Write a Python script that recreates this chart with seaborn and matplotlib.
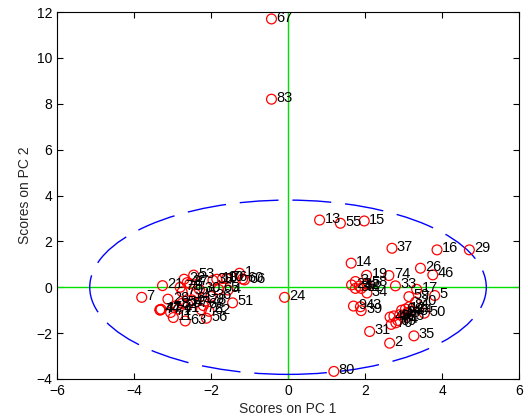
import matplotlib
matplotlib.use("Agg")
import matplotlib.pyplot as plt
import seaborn as sns
import pandas as pd
from matplotlib.patches import Ellipse

labels = [67, 83, 24,
          13, 55, 15, 37, 16, 29, 14, 26, 46, 19, 74, 33, 17, 59, 5, 20, 50,
          34, 58, 9, 43, 39, 31, 2, 35, 80,
          3, 23, 32, 42, 52,
          6, 12, 40, 45, 48, 49, 64, 69, 70, 75, 81, 84,
          1, 4, 7, 8, 10, 11, 18, 21, 22, 25, 27, 28, 30, 36, 38, 41, 44, 47,
          51, 53, 54, 56, 57, 60, 61, 62, 63, 65, 66, 68, 71, 72, 73, 76, 77,
          78, 79, 82]
pc1 = [-0.43, -0.43, -0.09,
       0.82, 1.36, 1.98, 2.70, 3.87, 4.71, 1.64, 3.44, 3.76, 2.04, 2.62, 2.79, 3.34, 3.14, 3.81, 3.31, 3.54,
       2.05, 2.05, 1.70, 1.88, 1.90, 2.12, 2.64, 3.27, 1.19,
       1.75, 1.65, 1.75, 1.85, 1.90,
       2.95, 3.05, 3.10, 2.90, 2.75, 2.65, 3.20, 2.80, 2.68, 3.00, 3.15, 2.85,
       -1.26, -1.56, -3.80, -2.55, -1.70, -2.98, -1.85, -3.26, -2.70, -2.40, -2.62, -3.12, -2.30, -2.00, -1.95, -2.85, -3.33, -3.30,
       -1.44, -2.45, -2.75, -2.12, -2.60, -1.18, -2.50, -2.05, -2.67, -1.80, -1.13, -2.20, -3.05, -2.25, -2.80, -1.60, -3.32,
       -2.15, -2.75, -2.90]
pc2 = [11.70, 8.20, -0.44,
       2.93, 2.79, 2.89, 1.70, 1.63, 1.63, 1.05, 0.83, 0.54, 0.52, 0.51, 0.06, -0.09, -0.41, -0.36, -0.65, -1.13,
       -0.25, 0.15, -0.82, -0.85, -1.02, -1.93, -2.44, -2.12, -3.67,
       0.25, 0.10, -0.05, 0.05, -0.05,
       -1.00, -0.95, -1.10, -1.20, -1.25, -1.30, -1.05, -1.55, -1.62, -1.30, -0.85, -1.45,
       0.61, -0.12, -0.44, 0.15, 0.38, -1.32, 0.35, 0.07, 0.35, -0.30, 0.20, -0.52, -0.10, -0.40, 0.30, -0.95, -0.98, -0.96,
       -0.68, 0.53, -0.70, -1.35, -0.75, 0.36, -0.55, -1.05, -1.47, -0.10, 0.32, -0.80, -1.10, -0.98, 0.00, 0.38, -1.00,
       -0.60, -0.20, -0.80]

ellipse_width = 10.3
ellipse_height = 7.6

df = pd.DataFrame({"PC1": pc1, "PC2": pc2, "label": labels})

sns.set_style("white")
plt.rcParams['font.family'] = ['Liberation Sans', 'DejaVu Sans']

fig = plt.figure(figsize=(5.28, 4.16), dpi=100)
ax = fig.add_axes([0.108, 0.089, 0.875, 0.882])

ax.axhline(0, color="#00e000", lw=1.0, zorder=1)
ax.axvline(0, color="#00e000", lw=1.0, zorder=1)

ell = Ellipse((0, 0), ellipse_width, ellipse_height, fill=False, edgecolor="blue",
              lw=1.0, linestyle=(0, (28, 10)), zorder=1)
ax.add_patch(ell)

sns.scatterplot(data=df, x="PC1", y="PC2", ax=ax, marker="o", s=50,
                facecolor="none", edgecolor="red", linewidth=0.9, zorder=3)

for lx, ly, lb in zip(pc1, pc2, labels):
    ax.annotate(str(lb), (lx, ly), xytext=(3.5, 1), textcoords="offset points",
                ha="left", va="center", fontsize=10.5, color="black", zorder=4)

ax.set_xlim(-6, 6)
ax.set_ylim(-4, 12)
ax.set_xticks([-6, -4, -2, 0, 2, 4, 6])
ax.set_yticks([-4, -2, 0, 2, 4, 6, 8, 10, 12])
ax.set_xlabel("Scores on PC 1", fontsize=10, labelpad=3)
ax.set_ylabel("Scores on PC 2", fontsize=10, labelpad=3)
ax.tick_params(direction="in", length=4, width=0.8, labelsize=10, top=True, right=True,
               bottom=True, left=True, colors="black")
for sp in ax.spines.values():
    sp.set_color("black")
    sp.set_linewidth(0.8)

fig.savefig("out.png", dpi=100)
